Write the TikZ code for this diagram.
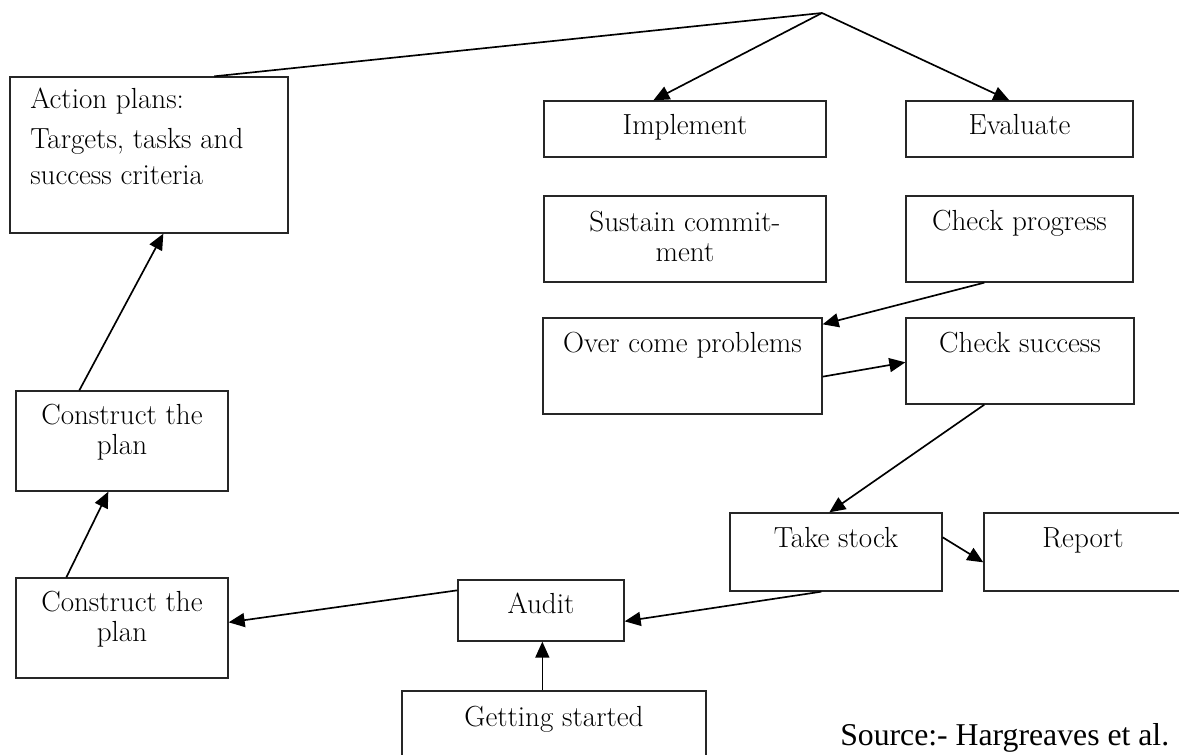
\documentclass[tikz,border=0pt]{standalone}
\usepackage{fontspec}
\newfontfamily\srcfont{Liberation Serif}
\usetikzlibrary{arrows.meta,calc,fit}
\tikzset{
  box/.style={draw=black!85, line width=1pt, inner sep=0pt, rectangle},
  lbl/.style={inner sep=0pt, font=\fontsize{21.8}{22.5}\selectfont\addfontfeatures{FakeBold=0.5}, align=center, anchor=base},
  conn/.style={line width=1.25pt, black},
  arr/.style={conn, -{Triangle[length=12pt,width=10.5pt]}}
}
\begin{document}
\begin{tikzpicture}[x=0.75pt,y=-0.75pt]
\clip (0,0) rectangle (1179,755);
\fill[white] (0,0) rectangle (1179,755);
% boxes
\node[box, fit={(10,77) (288,233)}] (act) {};
\node[box, fit={(16,391) (228,491)}] (con1) {};
\node[box, fit={(16,578) (228,678)}] (con2) {};
\node[box, fit={(544,101) (826,157)}] (impl) {};
\node[box, fit={(906,101) (1133,157)}] (eval) {};
\node[box, fit={(544,196) (826,282)}] (sust) {};
\node[box, fit={(906,196) (1133,282)}] (cprog) {};
\node[box, fit={(543,318) (822,414)}] (ocp) {};
\node[box, fit={(906,318) (1134,404)}] (csucc) {};
\node[box, fit={(730,513) (942,591)}] (tstock) {};
\node[box, fit={(984,513) (1182,591)}] (report) {};
\node[box, fit={(458,580) (624,641)}] (audit) {};
\node[box, fit={(402,691) (706,775)}] (gs) {};
% texts
\node[lbl, anchor=base west, align=left] (tact) at (30,185) {Action plans:\\[7.5pt]Targets, tasks and\\[4.5pt]success criteria};
\node[lbl] (tcon1) at (122,455) {Construct the\\plan};
\node[lbl] (tcon2) at (122,642) {Construct the\\plan};
\node[lbl] (timpl) at (685,135) {Implement};
\node[lbl] (teval) at (1019.5,135) {Evaluate};
\node[lbl] (tsust) at (685,262) {Sustain commit-\\ment};
\node[lbl] (tcprog) at (1019.5,231) {Check progress};
\node[lbl] (tocp) at (682.5,353) {Over come problems};
\node[lbl] (tcsucc) at (1020,353) {Check success};
\node[lbl] (ttstock) at (836,548) {Take stock};
\node[lbl] (treport) at (1083,548) {Report};
\node[lbl] (taudit) at (541,614) {Audit};
\node[lbl] (tgs) at (554,726) {Getting started};
\node[inner sep=0pt, anchor=base west, font=\srcfont\fontsize{23.8}{28}\selectfont] (src) at (840,745) {Source:- Hargreaves et al.};
% connectors
\coordinate (apex) at (822,13);
\draw[conn] (apex) -- ($(act.north west)+(205,0)$);
\draw[arr] (apex) -- ($(impl.north west)+(110,0)$);
\draw[arr] (apex) -- ($(eval.north west)+(104,0)$);
\draw[arr] ($(cprog.south west)+(79,0)$) -- ($(ocp.north east)+(0,7)$);
\draw[arr] ($(ocp.south east)+(0,-38)$) -- ($(csucc.north west)+(0,45)$);
\draw[arr] ($(csucc.south west)+(79,0)$) -- ($(tstock.north west)+(100,0)$);
\draw[arr] ($(tstock.north east)+(0,25)$) -- ($(report.north west)+(0,50)$);
\draw[arr] ($(tstock.south west)+(92,0)$) -- ($(audit.north east)+(0,42)$);
\draw[arr] ($(gs.north west)+(141,0)$) -- ($(audit.south west)+(85,0)$);
\draw[arr] ($(audit.north west)+(0,11)$) -- ($(con2.north east)+(0,45)$);
\draw[arr] ($(con2.north west)+(51,0)$) -- ($(con1.south west)+(93,0)$);
\draw[arr] ($(con1.north west)+(64,0)$) -- ($(act.south west)+(154,0)$);
\end{tikzpicture}
\end{document}
